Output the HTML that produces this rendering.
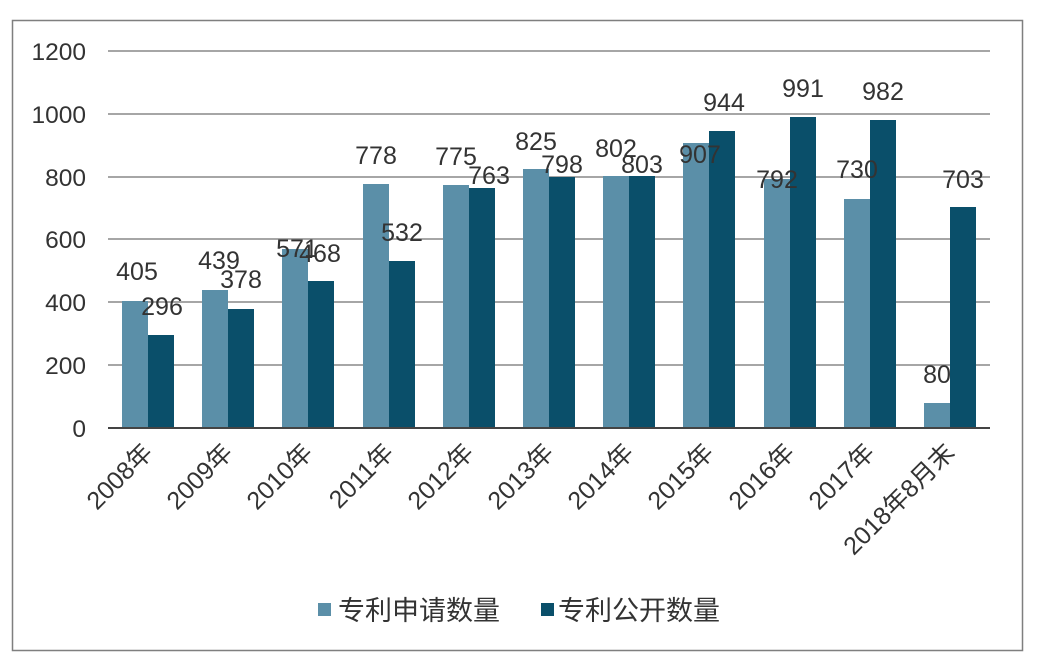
<!DOCTYPE html>
<html><head><meta charset="utf-8"><style>body{margin:0;background:#fff}svg{display:block}</style></head><body>
<svg width="1039" height="669" xmlns="http://www.w3.org/2000/svg" font-family="Liberation Sans, Noto Sans CJK SC, sans-serif">
<rect x="12.5" y="20.5" width="1010" height="630" fill="#fff" stroke="#7f7f7f" stroke-width="1.5"/>
<g stroke="#888" stroke-width="1.5">
<line x1="108" x2="990" y1="51" y2="51"/><line x1="108" x2="990" y1="114" y2="114"/><line x1="108" x2="990" y1="177" y2="177"/><line x1="108" x2="990" y1="239" y2="239"/><line x1="108" x2="990" y1="302" y2="302"/><line x1="108" x2="990" y1="365" y2="365"/>
</g>
<g font-size="24.5" fill="#333" text-anchor="end">
<text x="86" y="60">1200</text><text x="86" y="123">1000</text><text x="86" y="186">800</text><text x="86" y="248">600</text><text x="86" y="311">400</text><text x="86" y="374">200</text><text x="86" y="437">0</text>
</g>
<g fill="#5b8fa8">
<rect x="122" y="301" width="26" height="127"/>
<rect x="202" y="290" width="26" height="138"/>
<rect x="282" y="249" width="26" height="179"/>
<rect x="363" y="184" width="26" height="244"/>
<rect x="443" y="185" width="26" height="243"/>
<rect x="523" y="169" width="26" height="259"/>
<rect x="603" y="176" width="26" height="252"/>
<rect x="683" y="143" width="26" height="285"/>
<rect x="764" y="179" width="26" height="249"/>
<rect x="844" y="199" width="26" height="229"/>
<rect x="924" y="403" width="26" height="25"/>
</g>
<g fill="#0a4f6a">
<rect x="148" y="335" width="26" height="93"/>
<rect x="228" y="309" width="26" height="119"/>
<rect x="308" y="281" width="26" height="147"/>
<rect x="389" y="261" width="26" height="167"/>
<rect x="469" y="188" width="26" height="240"/>
<rect x="549" y="177" width="26" height="251"/>
<rect x="629" y="176" width="26" height="252"/>
<rect x="709" y="131" width="26" height="297"/>
<rect x="790" y="117" width="26" height="311"/>
<rect x="870" y="120" width="26" height="308"/>
<rect x="950" y="207" width="26" height="221"/>
</g>
<line x1="108" x2="990" y1="428" y2="428" stroke="#444" stroke-width="2"/>
<g font-size="25" fill="#333" text-anchor="middle">
<text x="137" y="280">405</text><text x="162" y="315">296</text>
<text x="219" y="269">439</text><text x="241" y="288">378</text>
<text x="297" y="257">571</text><text x="320" y="262">468</text>
<text x="376" y="164">778</text><text x="402" y="241">532</text>
<text x="456" y="165">775</text><text x="489" y="184">763</text>
<text x="536" y="150">825</text><text x="562" y="173">798</text>
<text x="616" y="157">802</text><text x="642" y="173">803</text>
<text x="700" y="163">907</text><text x="724" y="111">944</text>
<text x="777" y="188">792</text><text x="803" y="97">991</text>
<text x="857" y="178">730</text><text x="883" y="100">982</text>
<text x="937" y="383">80</text><text x="963" y="188">703</text>
</g>
<g font-size="25" fill="#333" text-anchor="end">
<text transform="translate(154,454) rotate(-45)">2008年</text>
<text transform="translate(234,454) rotate(-45)">2009年</text>
<text transform="translate(314,454) rotate(-45)">2010年</text>
<text transform="translate(395,454) rotate(-45)">2011年</text>
<text transform="translate(475,454) rotate(-45)">2012年</text>
<text transform="translate(555,454) rotate(-45)">2013年</text>
<text transform="translate(635,454) rotate(-45)">2014年</text>
<text transform="translate(715,454) rotate(-45)">2015年</text>
<text transform="translate(796,454) rotate(-45)">2016年</text>
<text transform="translate(876,454) rotate(-45)">2017年</text>
<text transform="translate(956,454) rotate(-45)">2018年8月末</text>
</g>
<g font-size="27" fill="#333">
<rect x="318" y="603" width="13" height="13" fill="#5b8fa8"/><text x="338" y="620">专利申请数量</text>
<rect x="541" y="603" width="13" height="13" fill="#0a4f6a"/><text x="558" y="620">专利公开数量</text>
</g>
</svg>
</body></html>
